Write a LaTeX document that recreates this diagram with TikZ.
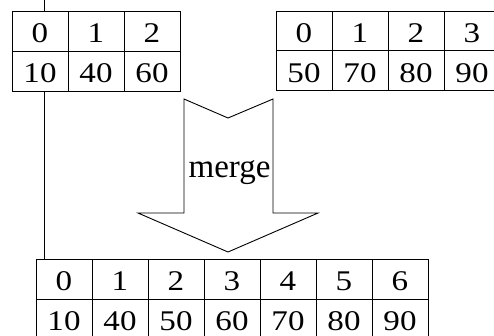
\documentclass[tikz,border=0pt]{standalone}
\usepackage{fontspec}
\setmainfont{Liberation Serif}
\newfontfamily\digitfont[FakeStretch=1.16]{Liberation Serif}
\begin{document}
\begin{tikzpicture}[x=1pt,y=-1pt,line width=0.9pt,
  cell/.style={draw,fill=white,minimum width=56pt,minimum height=40pt,inner sep=0pt,
    font=\digitfont\fontsize{28.5}{28.5}\selectfont,text height=23.5pt,text depth=0pt},
  arrowshape/.style={draw,fill=white,line join=miter}]
\useasboundingbox (0,0) rectangle (494,335);
% top-left table
\foreach \t [count=\i from 0] in {0,1,2}
  \node[cell] (a\i) at ({40+56*\i},31) {\t};
\foreach \t [count=\i from 0] in {10,40,60}
  \node[cell] (av\i) at ({40+56*\i},71) {\t};
% top-right table
\foreach \t [count=\i from 0] in {0,1,2,3}
  \node[cell] (b\i) at ({304+56*\i},31) {\t};
\foreach \t [count=\i from 0] in {50,70,80,90}
  \node[cell] (bv\i) at ({304+56*\i},70.5) {\t};
% bottom table
\foreach \t [count=\i from 0] in {0,1,2,3,4,5,6}
  \node[cell] (c\i) at ({64+56*\i},279) {\t};
\foreach \t [count=\i from 0] in {10,40,50,60,70,80,90}
  \node[cell] (cv\i) at ({64+56*\i},319) {\t};
% vertical line
\coordinate (top) at (44,0);
\draw (top) -- (top |- a0.north);
\draw (top |- av0.south) -- (top |- c0.north);
% merge arrow
\draw[arrowshape] (184,99) -- (228,118) -- (273,99) -- (273,213) -- (318,213)
  -- (228,252) -- (138,213) -- (184,213) -- cycle;
\node[font=\fontsize{33}{33}\selectfont,inner sep=0pt,anchor=base] (merge) at (229.5,177) {merge};
\end{tikzpicture}
\end{document}
